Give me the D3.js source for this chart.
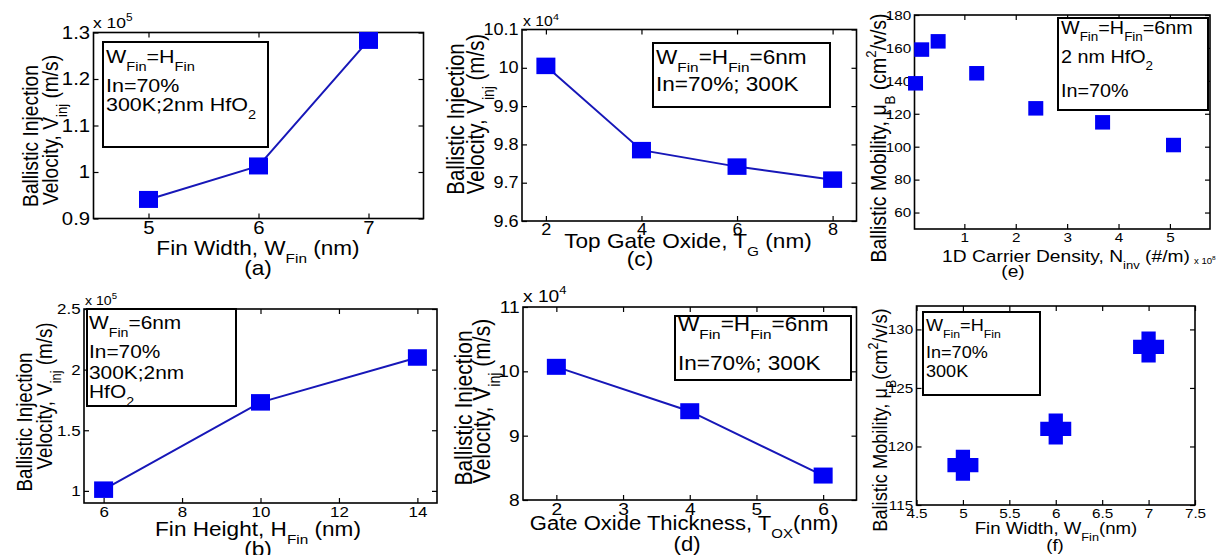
<!DOCTYPE html>
<html>
<head>
<meta charset="utf-8">
<script src="https://cdn.jsdelivr.net/npm/d3@7"></script>
<style>
  body { margin: 0; background: #fff; }
  svg text { font-family: "Liberation Sans", Arial, Helvetica, sans-serif; fill: #000; }
</style>
</head>
<body>
<svg id="fig" width="1216" height="555"></svg>
<script>
// ---------- data ----------
// (a) injection velocity vs fin width (x 1e5 m/s)
const finWidthA = [5, 6, 7];
const vinjA = [0.941, 1.013, 1.283];
// (b) injection velocity vs fin height (x 1e5 m/s)
const finHeightB = [6, 10, 14];
const vinjB = [1.01, 1.73, 2.10];
// (c) injection velocity vs top gate oxide (x 1e4 m/s)
const topGateC = [2, 4, 6, 8];
const vinjC = [10.005, 9.785, 9.742, 9.708];
// (d) injection velocity vs gate oxide thickness (x 1e4 m/s)
const toxD = [2, 4, 6];
const vinjD = [10.07, 9.38, 8.38];
// (e) ballistic mobility vs 1D carrier density (x 1e8 /m)
const nInvE = [0.05, 0.17, 0.49, 1.24, 2.39, 3.69, 5.07];
const muE = [138.5, 159.0, 164.0, 144.6, 123.3, 114.8, 101.0];
// (f) ballistic mobility vs fin width
const finWidthF = [5, 6, 7];
const muF = [118.4, 121.5, 128.5];

// tick values
const xTicksA = [5, 6, 7];
const yTicksA = [0.9, 1.0, 1.1, 1.2, 1.3];
const xTicksB = [6, 8, 10, 12, 14];
const yTicksB = [1, 1.5, 2, 2.5];
const xTicksC = [2, 4, 6, 8];
const yTicksC = [9.6, 9.7, 9.8, 9.9, 10.0, 10.1];
const xTicksD = [2, 3, 4, 5, 6];
const yTicksD = [8, 9, 10, 11];
const xTicksE = [1, 2, 3, 4, 5];
const yTicksE = [60, 80, 100, 120, 140, 160, 180];
const xTicksF = [4.5, 5, 5.5, 6, 6.5, 7, 7.5];
const yTicksF = [115, 120, 125, 130];

// ---------- drawing helpers ----------
const svg = d3.select("#fig");
const SX = 1.13;           // horizontal text stretch of the figure
const BLUE = "#0000f5";
const LINE = "#1717b8";

// write text with _{sub} and ^{sup} pieces as tspans
function rich(textSel, str, size) {
  const re = /([_^])\{([^}]*)\}/g;
  const parts = [];
  let last = 0, m;
  while ((m = re.exec(str))) {
    if (m.index > last) parts.push({ t: str.slice(last, m.index), k: 0 });
    parts.push({ t: m[2], k: m[1] === "_" ? 1 : -1 });
    last = re.lastIndex;
  }
  if (last < str.length) parts.push({ t: str.slice(last), k: 0 });
  let shift = 0;
  parts.forEach(p => {
    const target = p.k === 1 ? size * 0.42 : p.k === -1 ? -size * 0.45 : 0;
    textSel.append("tspan")
      .attr("dy", target - shift)
      .attr("font-size", p.k ? size * 0.68 : size)
      .text(p.t);
    shift = target;
  });
  return textSel;
}

function label(g, str, x, y, size, anchor, rotate) {
  const t = g.append("text")
    .attr("transform", `translate(${x},${y}) scale(${SX},1)` + (rotate ? " rotate(-90)" : ""))
    .attr("text-anchor", anchor)
    .attr("font-size", size);
  return rich(t, str, size);
}

// thick plus marker
const thickPlus = {
  draw(ctx, size) {
    const w = Math.sqrt(size) / 2, a = w * 0.46;
    ctx.moveTo(-a, -w); ctx.lineTo(a, -w); ctx.lineTo(a, -a); ctx.lineTo(w, -a);
    ctx.lineTo(w, a); ctx.lineTo(a, a); ctx.lineTo(a, w); ctx.lineTo(-a, w);
    ctx.lineTo(-a, a); ctx.lineTo(-w, a); ctx.lineTo(-w, -a); ctx.lineTo(-a, -a);
    ctx.closePath();
  }
};

function fmt(v) { return String(+v.toFixed(2)); }

function drawPanel(p) {
  const [x0, y0, x1, y1] = p.box;
  const f = p.font;
  const x = d3.scaleLinear().domain(p.xDomain).range([x0, x1]);
  const y = d3.scaleLinear().domain(p.yDomain).range([y1, y0]);
  const g = svg.append("g");

  // axes with inward ticks on all four sides
  const tk = 5;
  g.append("g").attr("transform", `translate(0,${y1})`)
    .call(d3.axisBottom(x).tickValues(p.xTicks).tickFormat(fmt).tickSizeInner(-tk).tickSizeOuter(0).tickPadding(3));
  g.append("g").attr("transform", `translate(${x0},0)`)
    .call(d3.axisLeft(y).tickValues(p.yTicks).tickFormat(fmt).tickSizeInner(-tk).tickSizeOuter(0).tickPadding(3));
  g.append("g").attr("transform", `translate(0,${y0})`)
    .call(d3.axisTop(x).tickValues(p.xTicks).tickFormat("").tickSizeInner(-tk).tickSizeOuter(0));
  g.append("g").attr("transform", `translate(${x1},0)`)
    .call(d3.axisRight(y).tickValues(p.yTicks).tickFormat("").tickSizeInner(-tk).tickSizeOuter(0));
  g.selectAll(".domain").remove();
  g.selectAll(".tick line").attr("stroke", "#000").attr("stroke-width", 1.2);
  g.selectAll(".tick text")
    .attr("font-size", f.tick)
    .attr("font-family", "Liberation Sans, Arial, sans-serif")
    .attr("fill", "#000")
    .attr("transform", `scale(${SX},1)`);

  g.append("rect")
    .attr("x", x0).attr("y", y0).attr("width", x1 - x0).attr("height", y1 - y0)
    .attr("fill", "none").attr("stroke", "#000").attr("stroke-width", 1.6);

  // series
  const pts = p.xs.map((v, i) => [v, p.ys[i]]);
  if (p.line) {
    g.append("path")
      .attr("d", d3.line().x(d => x(d[0])).y(d => y(d[1]))(pts))
      .attr("fill", "none").attr("stroke", LINE).attr("stroke-width", 2);
  }
  if (p.marker === "square") {
    const [mw, mh] = p.msize;
    g.selectAll("rect.mk").data(pts).join("rect").attr("class", "mk")
      .attr("x", d => x(d[0]) - mw / 2).attr("y", d => y(d[1]) - mh / 2)
      .attr("width", mw).attr("height", mh).attr("fill", BLUE);
  } else {
    g.selectAll("path.mk").data(pts).join("path").attr("class", "mk")
      .attr("transform", d => `translate(${x(d[0])},${y(d[1])})`)
      .attr("d", d3.symbol().type(thickPlus).size(p.msize * p.msize)())
      .attr("fill", BLUE);
  }

  // info box
  const [bx0, by0, bx1, by1] = p.legend.box;
  g.append("rect").attr("x", bx0).attr("y", by0).attr("width", bx1 - bx0).attr("height", by1 - by0)
    .attr("fill", "#fff").attr("stroke", "#000").attr("stroke-width", 2);
  p.legend.lines.forEach((s, i) => label(g, s, p.legend.x, p.legend.base[i], f.leg, "start", false));

  // exponent
  if (p.expo) label(g, p.expo.text, p.expo.x, p.expo.y, f.exp, "start", false);

  // axis titles
  p.yLabel.forEach(l => label(g, l.text, l.x, l.y, f.yl, "middle", true));
  label(g, p.xLabel.text, p.xLabel.x, p.xLabel.y, f.xl, "middle", false);
  label(g, p.tag.text, p.tag.x, p.tag.y, f.xl, "middle", false);
}

// ---------- panels ----------
const panels = [
  { // (a)
    box: [93.5, 32.5, 423.5, 218.5], xDomain: [4.5, 7.5], yDomain: [0.9, 1.3],
    xTicks: xTicksA, yTicks: yTicksA, xs: finWidthA, ys: vinjA,
    line: true, marker: "square", msize: [19, 17],
    font: { tick: 18, xl: 20, yl: 19.2, leg: 19, exp: 15.5 },
    legend: { box: [103, 42, 268, 147], x: 106, base: [63, 92, 111],
      lines: ["W_{Fin}=H_{Fin}", "In=70%", "300K;2nm HfO_{2}"] },
    expo: { text: "x 10^{5}", x: 93, y: 28 },
    yLabel: [{ text: "Ballistic Injection", x: 38, y: 136 }, { text: "Velocity, V_{inj} (m/s)", x: 58, y: 130 }],
    xLabel: { text: "Fin Width, W_{Fin} (nm)", x: 258, y: 255 },
    tag: { text: "(a)", x: 258, y: 275 }
  },
  { // (c)
    box: [522, 29.5, 856.5, 221], xDomain: [1.5, 8.5], yDomain: [9.6, 10.1],
    xTicks: xTicksC, yTicks: yTicksC, xs: topGateC, ys: vinjC,
    line: true, marker: "square", msize: [19, 16.5],
    font: { tick: 16, xl: 20, yl: 20.5, leg: 20, exp: 14 },
    legend: { box: [653, 43, 830, 107], x: 656, base: [64, 91],
      lines: ["W_{Fin}=H_{Fin}=6nm", "In=70%; 300K"] },
    expo: { text: "x 10^{4}", x: 523, y: 26 },
    yLabel: [{ text: "Ballistic Injection", x: 464, y: 119 }, { text: "Velocity, V_{inj} (m/s)", x: 484, y: 114 }],
    xLabel: { text: "Top Gate Oxide, T_{G} (nm)", x: 688, y: 248 },
    tag: { text: "(c)", x: 640, y: 266 }
  },
  { // (e)
    box: [914.5, 15, 1210, 229], xDomain: [0.03, 5.78], yDomain: [50, 180],
    xTicks: xTicksE, yTicks: yTicksE, xs: nInvE, ys: muE,
    line: false, marker: "square", msize: [15, 14.5],
    font: { tick: 13.5, xl: 17, yl: 19.5, leg: 17.5, exp: 8.5 },
    legend: { box: [1058, 18, 1208, 110], x: 1061, base: [34, 63, 97],
      lines: ["W_{Fin}=H_{Fin}=6nm", "2 nm HfO_{2}", "In=70%"] },
    expo: { text: "x 10^{8}", x: 1194, y: 264 },
    yLabel: [{ text: "Ballistic Mobility, \u03BC_{B} (cm^{2}/v/s)", x: 886, y: 138 }],
    xLabel: { text: "1D Carrier Density, N_{inv} (#/m)", x: 1066, y: 262 },
    tag: { text: "(e)", x: 1013, y: 277 }
  },
  { // (b)
    box: [84, 309, 437, 503], xDomain: [5.5, 14.5], yDomain: [0.9, 2.5],
    xTicks: xTicksB, yTicks: yTicksB, xs: finHeightB, ys: vinjB,
    line: true, marker: "square", msize: [19, 16.5],
    font: { tick: 15, xl: 20, yl: 18.8, leg: 18.5, exp: 12.5 },
    legend: { box: [87, 309, 236, 406], x: 89, base: [329, 358, 379, 398],
      lines: ["W_{Fin}=6nm", "In=70%", "300K;2nm", "HfO_{2}"] },
    expo: { text: "x 10^{5}", x: 85, y: 305 },
    yLabel: [{ text: "Ballistic Injection", x: 32, y: 422 }, { text: "Velocity, V_{inj} (m/s)", x: 52, y: 396 }],
    xLabel: { text: "Fin Height, H_{Fin} (nm)", x: 258, y: 536 },
    tag: { text: "(b)", x: 258, y: 556 }
  },
  { // (d)
    box: [523, 307, 856.5, 500], xDomain: [1.5, 6.5], yDomain: [8, 11],
    xTicks: xTicksD, yTicks: yTicksD, xs: toxD, ys: vinjD,
    line: true, marker: "square", msize: [19, 16],
    font: { tick: 17, xl: 19.5, yl: 21, leg: 20, exp: 17 },
    legend: { box: [675, 316, 851, 380], x: 678, base: [331, 370],
      lines: ["W_{Fin}=H_{Fin}=6nm", "In=70%; 300K"] },
    expo: { text: "x 10^{4}", x: 523, y: 302 },
    yLabel: [{ text: "Ballistic Injection", x: 472, y: 408 }, { text: "Velocity, V_{inj} (m/s)", x: 490, y: 401 }],
    xLabel: { text: "Gate Oxide Thickness, T_{OX}(nm)", x: 684, y: 530 },
    tag: { text: "(d)", x: 687, y: 551 }
  },
  { // (f)
    box: [916.5, 306, 1195, 505], xDomain: [4.5, 7.5], yDomain: [115, 132],
    xTicks: xTicksF, yTicks: yTicksF, xs: finWidthF, ys: muF,
    line: false, marker: "plus", msize: 31,
    font: { tick: 13.5, xl: 16.5, yl: 18.2, leg: 16, exp: 12 },
    legend: { box: [923, 312, 1040, 395], x: 926, base: [331, 358, 377],
      lines: ["W_{Fin}=H_{Fin}", "In=70%", "300K"] },
    yLabel: [{ text: "Balistic Mobility, \u03BC_{B}(cm^{2}/v/s)", x: 887, y: 420 }],
    xLabel: { text: "Fin Width, W_{Fin}(nm)", x: 1056, y: 534 },
    tag: { text: "(f)", x: 1055, y: 551 }
  }
];

panels.forEach(drawPanel);
</script>
</body>
</html>
